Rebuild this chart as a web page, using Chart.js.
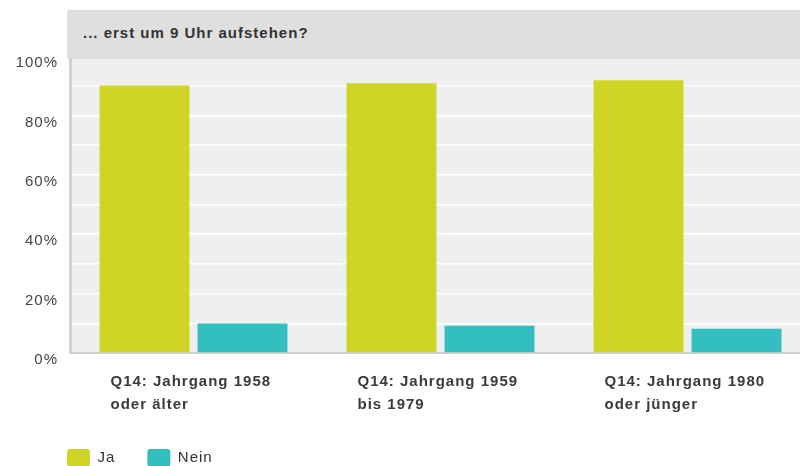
<!DOCTYPE html>
<html lang="de">
<head>
  <meta charset="UTF-8" />
  <title>... erst um 9 Uhr aufstehen?</title>
  <script src="https://cdn.jsdelivr.net/npm/chart.js"></script>
  <style>
    body {
      margin: 0;
      padding: 0;
      width: 800px;
      height: 466px;
      overflow: hidden;
      position: relative;
      background: #fff;
      font-family: 'Liberation Sans', Arial, sans-serif;
    }
    .chart-box {
      position: absolute;
      left: 0;
      top: 0;
      width: 812px;
      height: 480px;
    }
    .title-bar {
      position: absolute;
      left: 67px;
      top: 10px;
      width: 745px;
      height: 49px;
      line-height: 46px;
      background: #dfdfdf;
      color: #333;
      font-weight: bold;
      font-size: 15px;
      letter-spacing: 1px;
      padding-left: 16px;
      box-sizing: border-box;
    }
  </style>
</head>
<body>
  <div class="chart-box"><canvas id="chart"></canvas></div>
  <div class="title-bar">... erst um 9 Uhr aufstehen?</div>
  <script>
    // categories and values (percent)
    const categories = [
      ['Q14: Jahrgang 1958', 'oder älter'],
      ['Q14: Jahrgang 1959', 'bis 1979'],
      ['Q14: Jahrgang 1980', 'oder jünger']
    ];
    const jaValues = [90.1, 90.8, 91.8];
    const neinValues = [9.9, 9.2, 8.2];

    // grey plot background + slightly spaced letters like the original
    const plotBg = {
      id: 'plotBg',
      beforeUpdate(chart) { chart.ctx.letterSpacing = '1px'; },
      afterLayout(chart) {
        // legend starts under the title bar, not at the canvas edge
        chart.legend.left = 35;
      },
      beforeDraw(chart) {
        const { ctx, chartArea } = chart;
        ctx.letterSpacing = '1px';
        ctx.save();
        ctx.fillStyle = '#efefef';
        ctx.fillRect(chartArea.left, chartArea.top, chartArea.right - chartArea.left, chartArea.bottom - chartArea.top);
        ctx.restore();
      }
    };

    new Chart(document.getElementById('chart').getContext('2d'), {
      type: 'bar',
      data: {
        labels: categories,
        datasets: [
          { label: 'Ja', data: jaValues, backgroundColor: '#ced526' },
          { label: 'Nein', data: neinValues, backgroundColor: '#33bebf' }
        ]
      },
      options: {
        responsive: true,
        maintainAspectRatio: false,
        animation: false,
        categoryPercentage: 0.7935,
        barPercentage: 0.918,
        layout: { padding: { left: 13, top: 56, right: 1, bottom: 3 } },
        scales: {
          x: {
            grid: { display: false, drawTicks: false },
            border: { color: '#d0d0d0', width: 2 },
            afterFit(scale) {
              scale.height = 64;
              scale.paddingLeft = 0;
              scale.paddingRight = 0;
            },
            ticks: {
              align: 'start',
              labelOffset: -83,
              padding: 18,
              color: '#3a3a3a',
              font: { family: 'Liberation Sans', size: 15, weight: 'bold', lineHeight: 1.5 }
            }
          },
          y: {
            min: 0,
            max: 100,
            afterFit(scale) { scale.width = 57; },
            grid: { color: '#ffffff', lineWidth: 1.5, drawTicks: false },
            border: { color: '#d0d0d0', width: 3 },
            ticks: {
              stepSize: 10,
              padding: 12,
              labelOffset: 7,
              color: '#444',
              font: { family: 'Liberation Sans', size: 15 },
              callback: v => (v % 20 === 0 ? v + '%' : '')
            }
          }
        },
        plugins: {
          title: { display: false },
          tooltip: { enabled: false },
          legend: {
            position: 'bottom',
            align: 'start',
            labels: {
              boxWidth: 23,
              boxHeight: 18,
              padding: 32,
              useBorderRadius: true,
              borderRadius: 3,
              color: '#333',
              font: { family: 'Liberation Sans', size: 15 }
            }
          }
        }
      },
      plugins: [plotBg]
    });
  </script>
</body>
</html>
